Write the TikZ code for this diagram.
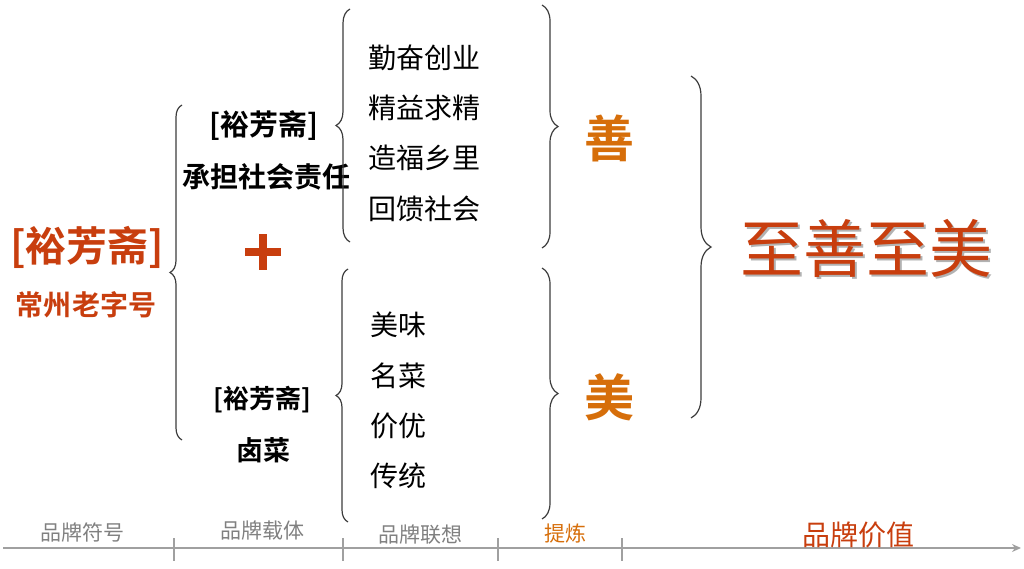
\documentclass[tikz,border=0pt]{standalone}
\usepackage{fontspec}
\setmainfont{Noto Sans CJK SC}[BoldFont={Noto Sans CJK SC Bold}]
\usetikzlibrary{decorations.pathreplacing,arrows.meta}
\definecolor{brandred}{RGB}{200,62,14}
\definecolor{brandorange}{RGB}{214,110,10}
\definecolor{labelgray}{RGB}{128,128,128}
\definecolor{axisgray}{RGB}{160,160,160}
\definecolor{bracegray}{RGB}{60,60,60}
\newcommand{\fs}[1]{\fontsize{#1}{#1}\selectfont}
\tikzset{
  bracestyle/.style={draw=bracegray,line width=1.2pt,decorate,decoration={brace,amplitude=#1}},
  bracestyle/.default=12pt,
  listtxt/.style={anchor=west,inner sep=0pt,font=\fs{28}},
  axlabel/.style={inner sep=0pt,text=labelgray,font=\fs{21}},
  tickstyle/.style={draw=axisgray,line width=1.2pt},
}
\begin{document}
\begin{tikzpicture}[x=1pt,y=-1pt]
\useasboundingbox (0,0) rectangle (1024,568);
% left titles
\node[inner sep=0pt,text=brandred,font=\bfseries\fs{41}] (t1) at (87,247) {[裕芳斋]};
\node[inner sep=0pt,text=brandred,font=\bfseries\fs{28}] (t2) at (86,305) {常州老字号};
% carriers
\node[inner sep=0pt,font=\bfseries\fs{29}] (c1) at (264,126) {[裕芳斋]};
\node[inner sep=0pt,font=\bfseries\fs{28}] (c2) at (266,177) {承担社会责任};
\node[inner sep=0pt,font=\bfseries\fs{26}] (c3) at (262,400) {[裕芳斋]};
\node[inner sep=0pt,font=\bfseries\fs{27}] (c4) at (263,450) {卤菜};
% plus
\coordinate (plus) at (263,252);
\fill[brandred] ([xshift=-18pt,yshift=4pt]plus) rectangle ([xshift=18pt,yshift=-4pt]plus);
\fill[brandred] ([xshift=-4pt,yshift=18pt]plus) rectangle ([xshift=4pt,yshift=-18pt]plus);
% lists
\node[listtxt] (u1) at (368,58) {勤奋创业};
\node[listtxt] (u2) at (368,108) {精益求精};
\node[listtxt] (u3) at (368,158) {造福乡里};
\node[listtxt] (u4) at (368,209) {回馈社会};
\node[listtxt] (l1) at (370,325) {美味};
\node[listtxt] (l2) at (370,376) {名菜};
\node[listtxt] (l3) at (370,426) {价优};
\node[listtxt] (l4) at (370,476) {传统};
% shan mei
\node[inner sep=0pt,text=brandorange,font=\bfseries\fs{50}] (shan) at (609,138) {善};
\node[inner sep=0pt,text=brandorange,font=\bfseries\fs{50}] (mei) at (609,397) {美};
% value
\node[inner sep=0pt,text=black!30,font=\fs{63}] at (868,250) {至善至美};
\node[inner sep=0pt,text=brandred,font=\fs{63}] (val) at (866,248) {至善至美};
% brace coordinates
\coordinate (aT) at (182,105); \coordinate (aB) at (182,440);
\coordinate (bT) at (350,9);   \coordinate (bB) at (350,242);
\coordinate (cT) at (348,269); \coordinate (cB) at (348,522);
\coordinate (dT) at (542,5);   \coordinate (dB) at (542,248);
\coordinate (eT) at (542,268); \coordinate (eB) at (542,519);
\coordinate (fT) at (691,76);  \coordinate (fB) at (691,418);
\draw[bracestyle=12pt] (aB) -- (aT);
\draw[bracestyle=14pt] (bB) -- (bT);
\draw[bracestyle=12pt] (cB) -- (cT);
\draw[bracestyle=16pt] (dT) -- (dB);
\draw[bracestyle=16pt] (eT) -- (eB);
\draw[bracestyle=20pt] (fT) -- (fB);
% axis
\coordinate (ax0) at (3,548); \coordinate (ax1) at (1021,548);
\draw[draw=axisgray,line width=1.5pt,-{Stealth[length=9pt,width=8pt]}] (ax0) -- (ax1);
\foreach \x/\n in {174/k1,343/k2,498/k3,622/k4}{
  \coordinate (\n t) at (\x,538); \coordinate (\n b) at (\x,561);
  \draw[tickstyle] (\n t) -- (\n b);
}
\node[axlabel] (a1) at (82,532) {品牌符号};
\node[axlabel] (a2) at (262,530) {品牌载体};
\node[axlabel] (a3) at (420,535) {品牌联想};
\node[axlabel,text=brandorange] (a4) at (565,534) {提炼};
\node[inner sep=0pt,text=brandred,font=\fs{28}] (a5) at (858,535) {品牌价值};
\end{tikzpicture}
\end{document}
